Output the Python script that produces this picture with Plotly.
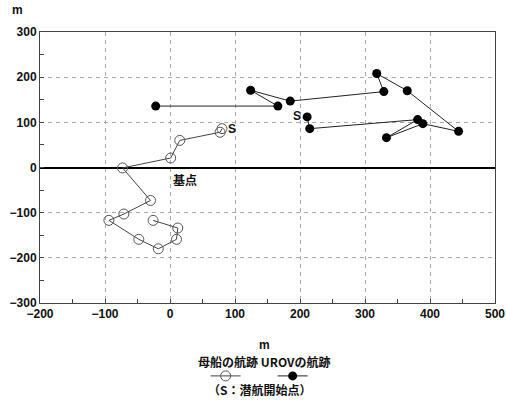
import plotly.graph_objects as go

# Mother ship track (open circles), metres
ship_x = [80, 77, 15, 1, -73, -30, -71, -94, -48, -18, 10, 12, -26]
ship_y = [86, 78, 60, 21, -1, -73, -103, -117, -159, -180, -159, -134, -117]

# UROV track (filled circles), metres
urov_x = [211, 215, 381, 333, 389, 444, 365, 318, 329, 185, 124, 166, -22]
urov_y = [112, 86, 106, 66, 97, 80, 170, 208, 168, 147, 171, 136, 136]

x_ticks = [-200, -100, 0, 100, 200, 300, 400, 500]
y_ticks = [-300, -200, -100, 0, 100, 200, 300]

tickfont = dict(family="Liberation Sans, Arial, sans-serif", size=12, color="#111", weight="bold")
jpfont = dict(family="Noto Sans CJK JP", size=12, color="#111", weight="bold")

fig = go.Figure()
fig.add_trace(go.Scatter(
    x=ship_x, y=ship_y, mode="lines+markers", name=" ",
    line=dict(color="#444", width=1),
    marker=dict(symbol="circle-open", size=10, color="#555", line=dict(width=1)),
    showlegend=True,
))
fig.add_trace(go.Scatter(
    x=urov_x, y=urov_y, mode="lines+markers", name=" ",
    line=dict(color="#222", width=1),
    marker=dict(symbol="circle", size=9, color="#000"),
    showlegend=True,
))

axis_common = dict(
    showline=True, linecolor="#444", linewidth=1, mirror=True,
    ticks="inside", ticklen=4, tickcolor="#444",
    showgrid=True, gridcolor="#aaa", griddash="4px,4px", gridwidth=1,
    tickfont=tickfont,
    minor=dict(dtick=50, ticks="inside", ticklen=4, tickcolor="#444", showgrid=False),
)

fig.update_xaxes(range=[-200, 500], tickvals=x_ticks, zeroline=False, **axis_common)
fig.update_yaxes(range=[-300, 300], tickvals=y_ticks, zeroline=True,
                 zerolinecolor="#000", zerolinewidth=1.5, **axis_common)

def pa(x, y, text, font):
    return dict(x=x, y=y, xref="paper", yref="paper", text=text, showarrow=False,
                xanchor="center", yanchor="middle", font=font)

annotations = [
    dict(x=86, y=86, xref="x", yref="y", text="S", showarrow=False, xanchor="left",
         font=dict(family="Liberation Sans", size=12, color="#111", weight="bold")),
    dict(x=196, y=114, xref="x", yref="y", text="S", showarrow=False,
         font=dict(family="Liberation Sans", size=12, color="#111", weight="bold")),
    dict(x=23, y=-27, xref="x", yref="y", text="基点", showarrow=False, font=jpfont),
    pa(-0.0505, 1.08, "m", tickfont),
    pa(0.4945, -0.156, "m", tickfont),
    pa(0.492, -0.217, "母船の航跡 UROVの航跡", jpfont),
    pa(0.4835, -0.320, "（S：潜航開始点）", jpfont),
]

fig.update_layout(
    width=506, height=401,
    margin=dict(l=40, r=11, t=32, b=98, autoexpand=False),
    paper_bgcolor="white", plot_bgcolor="white",
    annotations=annotations,
    legend=dict(orientation="h", x=0.364, y=-0.269, xanchor="left", yanchor="middle",
                entrywidth=22, entrywidthmode="pixels", bgcolor="rgba(0,0,0,0)",
                font=dict(size=10), itemwidth=30, tracegroupgap=0),
)

fig.write_html("out.html", config={"displayModeBar": False},
               post_script="document.body.style.margin='0';")
